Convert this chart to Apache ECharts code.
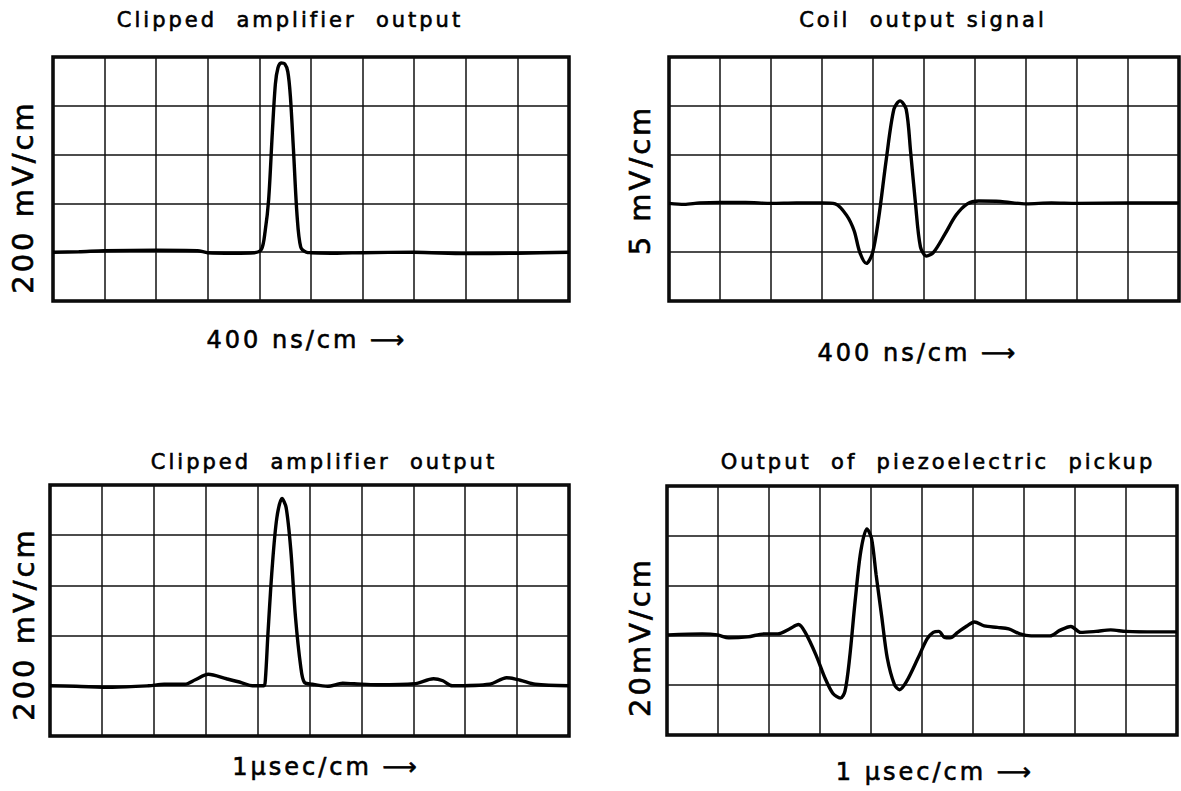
<!DOCTYPE html>
<html>
<head>
<meta charset="utf-8">
<script src="https://cdn.jsdelivr.net/npm/echarts@6/dist/echarts.min.js"></script>
<style>
  html, body { margin: 0; padding: 0; background: #fff; }
  #chart { width: 1181px; height: 791px; }
  /* the scope captions are hand lettered, widely spaced */
  #chart text { letter-spacing: 3px; }
</style>
</head>
<body>
<div id="chart"></div>
<script>
// traces, in screen divisions (cm): x 0..10, y 0..5
const clippedFastX = [0, 0.5, 1.0, 2.0, 2.8, 3.0, 3.5, 3.9, 4.04, 4.11, 4.18, 4.25, 4.31, 4.36, 4.42, 4.49, 4.55, 4.60, 4.66, 4.73, 4.80, 4.91, 5.0, 5.5, 6.0, 7.0, 8.0, 9.0, 10];
const clippedFastY = [1.0, 1.01, 1.03, 1.04, 1.03, 0.99, 0.98, 0.99, 1.06, 1.42, 2.09, 3.44, 4.45, 4.78, 4.88, 4.86, 4.70, 4.20, 3.10, 1.75, 1.11, 1.0, 0.99, 0.98, 0.99, 1.0, 0.97, 0.98, 1.0];

const coilX = [0, 0.3, 0.6, 1.0, 1.5, 2.0, 2.5, 3.0, 3.26, 3.48, 3.63, 3.74, 3.87, 3.99, 4.11, 4.26, 4.41, 4.53, 4.65, 4.74, 4.83, 4.93, 5.05, 5.19, 5.41, 5.63, 5.85, 6.07, 6.5, 7.0, 7.5, 8.0, 9.0, 10];
const coilY = [2.0, 1.98, 2.01, 2.02, 2.02, 2.0, 2.01, 2.01, 1.99, 1.76, 1.44, 1.0, 0.77, 0.98, 1.69, 2.90, 3.93, 4.10, 3.93, 3.03, 2.03, 1.11, 0.92, 1.0, 1.37, 1.76, 1.99, 2.05, 2.04, 1.99, 2.01, 2.0, 2.01, 2.01];

const clippedSlowX = [0, 0.5, 1.2, 1.9, 2.2, 2.6, 2.8, 3.05, 3.4, 3.7, 3.9, 4.12, 4.15, 4.2, 4.28, 4.37, 4.47, 4.55, 4.64, 4.73, 4.83, 4.9, 5.06, 5.35, 5.64, 5.86, 6.3, 7.02, 7.39, 7.57, 7.75, 8.47, 8.8, 9.06, 9.35, 10];
const clippedSlowY = [1.0, 0.99, 0.97, 1.0, 1.03, 1.03, 1.12, 1.23, 1.14, 1.06, 1.0, 1.0, 1.13, 2.05, 3.34, 4.34, 4.73, 4.55, 3.70, 2.37, 1.39, 1.07, 1.03, 0.99, 1.05, 1.04, 1.02, 1.04, 1.14, 1.10, 1.0, 1.03, 1.16, 1.11, 1.03, 1.0];

const piezoX = [0.02, 0.69, 0.99, 1.21, 1.58, 1.91, 2.17, 2.40, 2.58, 2.71, 2.92, 3.10, 3.25, 3.40, 3.49, 3.58, 3.69, 3.80, 3.92, 4.01, 4.10, 4.21, 4.32, 4.46, 4.56, 4.70, 4.92, 5.10, 5.22, 5.33, 5.44, 5.55, 5.70, 5.88, 6.03, 6.22, 6.48, 6.70, 6.92, 7.14, 7.51, 7.70, 7.92, 8.11, 8.41, 8.70, 9.0, 9.59, 10];
const piezoY = [2.01, 2.03, 2.01, 1.95, 1.97, 2.03, 2.03, 2.13, 2.22, 2.06, 1.61, 1.14, 0.84, 0.74, 0.88, 1.54, 2.70, 3.69, 4.14, 3.95, 3.22, 2.38, 1.54, 1.01, 0.91, 1.08, 1.54, 1.93, 2.06, 2.08, 1.96, 1.95, 2.06, 2.19, 2.27, 2.19, 2.16, 2.13, 2.03, 1.99, 1.99, 2.10, 2.18, 2.06, 2.08, 2.11, 2.08, 2.07, 2.07];

const panelTitles = ['Clipped  amplifier  output', 'Coil  output signal', 'Clipped  amplifier  output', 'Output  of  piezoelectric  pickup'];
const timeLabels = ['400 ns/cm ⟶', '400 ns/cm ⟶', '1μsec/cm ⟶', '1 μsec/cm ⟶'];
const voltLabels = ['200 mV/cm', '5 mV/cm', '200 mV/cm', '20mV/cm'];

const zip = (xs, ys) => xs.map((x, i) => [x, ys[i]]);
const traces = [
  zip(clippedFastX, clippedFastY),
  zip(coilX, coilY),
  zip(clippedSlowX, clippedSlowY),
  zip(piezoX, piezoY)
];

const grids = [
  { left: 53, top: 57, width: 516, height: 244 },
  { left: 669, top: 57, width: 510, height: 244 },
  { left: 50, top: 485, width: 519, height: 251 },
  { left: 667, top: 486, width: 510, height: 249 }
];

// text anchors (centre points)
const titlePos = [[290, 20], [923, 20], [324, 462], [938, 462]];
const timePos = [[307, 340], [918, 353], [326, 767], [935, 772]];
const voltPos = [[23, 197], [640, 180], [24, 624], [640, 637]];

const font = 'DejaVu Sans';
const gridLine = { show: true, lineStyle: { color: '#111', width: 1.5 } };

const chart = echarts.init(document.getElementById('chart'), null, { renderer: 'svg' });

const textStyle = (text, size) => ({
  text: text, font: size + 'px ' + font, fill: '#000',
  stroke: '#000', lineWidth: 0.6,
  textAlign: 'center', textVerticalAlign: 'middle'
});

const graphic = [];
for (let i = 0; i < 4; i++) {
  graphic.push({ type: 'text', x: titlePos[i][0], y: titlePos[i][1], style: textStyle(panelTitles[i], 21) });
  graphic.push({ type: 'text', x: timePos[i][0], y: timePos[i][1], style: textStyle(timeLabels[i], 24) });
  graphic.push({
    type: 'text', x: voltPos[i][0], y: voltPos[i][1], rotation: Math.PI / 2,
    style: textStyle(voltLabels[i], 29)
  });
}

const option = {
  backgroundColor: '#fff',
  animation: false,
  grid: grids.map(g => Object.assign({ show: true, borderColor: '#000', borderWidth: 3.5, backgroundColor: 'transparent' }, g)),
  xAxis: grids.map((g, i) => ({
    type: 'value', gridIndex: i, min: 0, max: 10, interval: 1,
    axisLine: { show: false }, axisTick: { show: false }, axisLabel: { show: false },
    splitLine: gridLine
  })),
  yAxis: grids.map((g, i) => ({
    type: 'value', gridIndex: i, min: 0, max: 5, interval: 1,
    axisLine: { show: false }, axisTick: { show: false }, axisLabel: { show: false },
    splitLine: gridLine
  })),
  series: traces.map((d, i) => ({
    type: 'line', xAxisIndex: i, yAxisIndex: i,
    data: d,
    showSymbol: false,
    smooth: 0.3,
    lineStyle: { color: '#000', width: 3.4 }
  })),
  graphic: graphic
};

chart.setOption(option);
</script>
</body>
</html>
